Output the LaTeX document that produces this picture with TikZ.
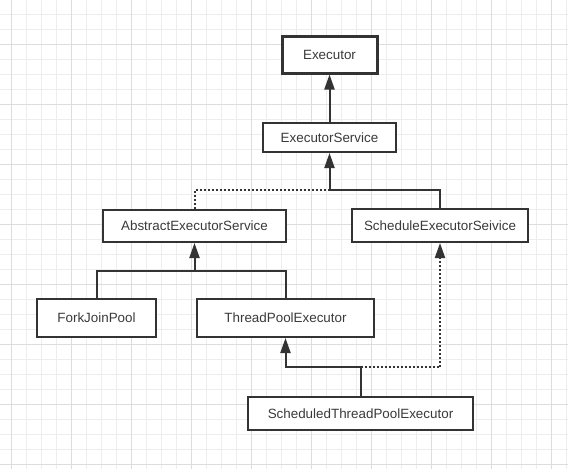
\documentclass[tikz,border=0pt]{standalone}
\usepackage{fontspec}
\setmainfont{Liberation Sans}
\usetikzlibrary{arrows.meta}
\definecolor{gridminor}{HTML}{EDEDED}
\definecolor{gridmajor}{HTML}{DDDDDD}
\definecolor{linec}{HTML}{333333}
\definecolor{textc}{HTML}{3A3A3A}
\tikzset{
  box/.style={draw=linec, line width=2pt, fill=white, text=textc, inner sep=0pt,
    font=\fontsize{13.4}{15}\selectfont},
  conn/.style={draw=linec, line width=2pt},
  arr/.style={conn, -{Triangle[length=15pt,width=10pt]}},
  dotline/.style={dash pattern=on 2pt off 2pt},
}
\begin{document}
\begin{tikzpicture}[x=1pt,y=-1pt]
\useasboundingbox (0,0) rectangle (568,469);
\fill[white] (0,0) rectangle (568,469);
% grid
\foreach \i in {0,...,38} {
  \pgfmathsetmacro{\xx}{-4+15*\i}
  \draw[gridminor, line width=1pt] (\xx,0) -- (\xx,469);
}
\foreach \i in {0,...,31} {
  \pgfmathsetmacro{\yy}{-1+15*\i}
  \draw[gridminor, line width=1pt] (0,\yy) -- (568,\yy);
}
\foreach \i in {0,...,9} {
  \pgfmathsetmacro{\xx}{11+60*\i}
  \draw[gridmajor, line width=1pt] (\xx,0) -- (\xx,469);
}
\foreach \i in {0,...,7} {
  \pgfmathsetmacro{\yy}{44+60*\i}
  \draw[gridmajor, line width=1pt] (0,\yy) -- (568,\yy);
}
% nodes
\node[box, line width=3pt, minimum width=95pt, minimum height=37pt] (exec) at (329.5,54.5) {Executor};
\node[box, minimum width=133pt, minimum height=29pt] (es) at (329.5,137.5) {ExecutorService};
\node[box, minimum width=183pt, minimum height=32pt] (aes) at (194.5,226) {AbstractExecutorService};
\node[box, minimum width=176pt, minimum height=33pt] (ses) at (440,225.5) {ScheduleExecutorSeivice};
\node[box, minimum width=119pt, minimum height=38pt] (fjp) at (96.5,318) {ForkJoinPool};
\node[box, minimum width=177pt, minimum height=38pt] (tpe) at (285.5,318) {ThreadPoolExecutor};
\node[box, minimum width=225pt, minimum height=33pt] (stpe) at (360.5,413.5) {ScheduledThreadPoolExecutor};
% junctions
\coordinate (j1) at (329.5,190);
\coordinate (j2) at (194.5,271);
\coordinate (j3) at (360.5,367);
% connectors
\draw[arr] (es.north) -- (exec.south);
\draw[arr] (j1) -- (es.south);
\draw[conn, dotline] (aes.north) |- (j1);
\draw[conn] (ses.north) |- (j1);
\draw[arr] (j2) -- (aes.south);
\draw[conn] (fjp.north) |- (j2);
\draw[conn] (tpe.north) |- (j2);
\draw[arr] (stpe.north) -- (j3) -| (tpe.south);
\draw[arr, dotline] (j3) -| (ses.south);
\end{tikzpicture}
\end{document}
